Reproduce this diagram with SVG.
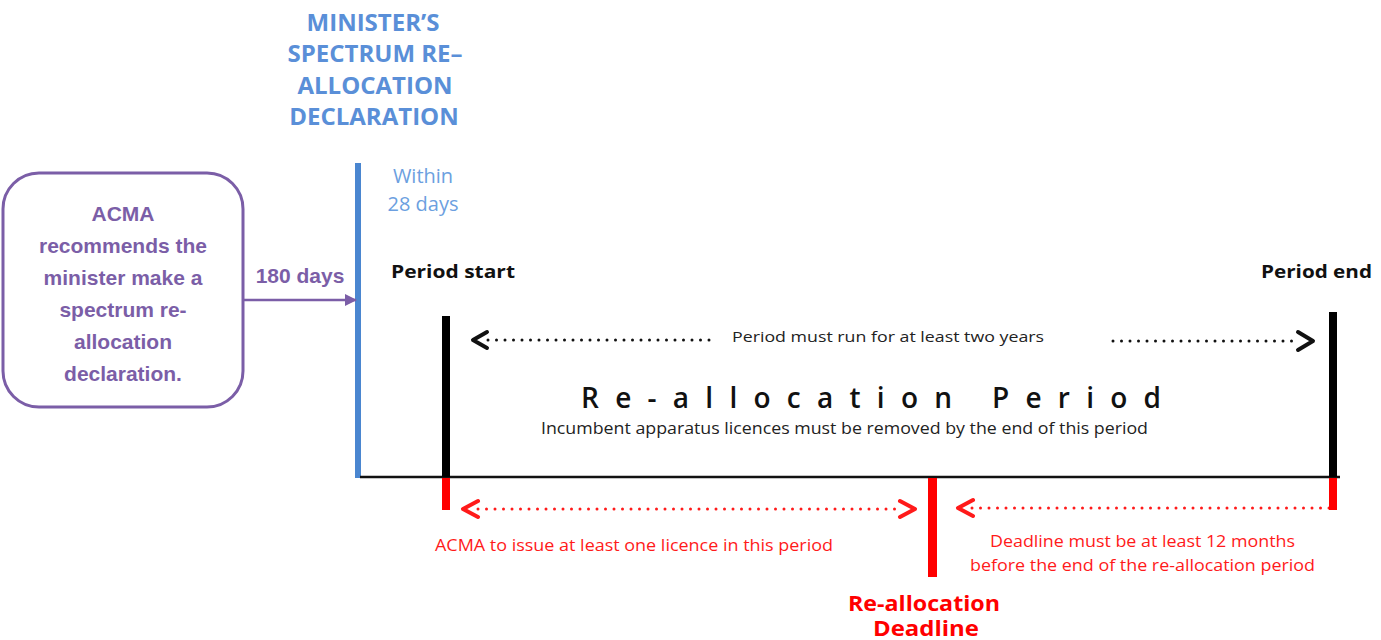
<svg xmlns="http://www.w3.org/2000/svg" width="1381" height="640" viewBox="0 0 1381 640">
<defs>
<style>
.title{font-family:"Open Sans","Liberation Sans",sans-serif;font-weight:700;font-size:24px;fill:#5a8fd8;text-anchor:middle}
.within{font-family:"Open Sans","Liberation Sans",sans-serif;font-size:20px;fill:#6c9fe0;text-anchor:middle}
.purple{font-family:"Liberation Sans",Arial,sans-serif;font-weight:700;font-size:21px;fill:#7b5ea7;text-anchor:middle}
.lbl{font-family:"Open Sans","Liberation Sans",sans-serif;font-weight:700;font-size:17px;fill:#111}
.note{font-family:"Open Sans","Liberation Sans",sans-serif;font-size:15px;fill:#222}
.rnote{font-family:"Open Sans","Liberation Sans",sans-serif;font-size:16px;fill:#ff1a1a}
.rbig{font-family:"Open Sans","Liberation Sans",sans-serif;font-weight:700;font-size:22px;fill:#ff0000}
.dotk{stroke:#111;stroke-width:3;stroke-linecap:round;stroke-dasharray:0 8.5;fill:none}
.dotr{stroke:#ff1a1a;stroke-width:3;stroke-linecap:round;stroke-dasharray:0 8.5;fill:none}
.chk{stroke:#111;stroke-width:4;fill:none;stroke-linecap:round;stroke-linejoin:round}
.chr{stroke:#ff1a1a;stroke-width:4;fill:none;stroke-linecap:round;stroke-linejoin:round}
</style>
<marker id="ap" markerWidth="12" markerHeight="12" refX="11" refY="6" orient="auto" markerUnits="userSpaceOnUse">
<path d="M0,0 L12,6 L0,12 Z" fill="#7b5ea7"/>
</marker>
</defs>
<rect width="1381" height="640" fill="#fff"/>

<g id="declaration">
<text class="title" x="373" y="31">MINISTER’S</text>
<text class="title" x="375" y="62">SPECTRUM RE–</text>
<text class="title" x="375" y="94">ALLOCATION</text>
<text class="title" x="374" y="125">DECLARATION</text>
<rect x="355" y="163" width="6" height="315" fill="#4a86d0"/>
<text class="within" x="423" y="183">Within</text>
<text class="within" x="423" y="211">28 days</text>
</g>

<g id="acma-box">
<rect x="3" y="173" width="240" height="234" rx="36" ry="36" fill="#fff" stroke="#7b5ea7" stroke-width="3"/>
<text class="purple" x="123" y="221">ACMA</text>
<text class="purple" x="123" y="253">recommends the</text>
<text class="purple" x="123" y="285">minister make a</text>
<text class="purple" x="123" y="317">spectrum re-</text>
<text class="purple" x="123" y="349">allocation</text>
<text class="purple" x="123" y="381">declaration.</text>
</g>

<g id="connectors">
<line x1="243" y1="300" x2="356" y2="300" stroke="#7b5ea7" stroke-width="2.5" marker-end="url(#ap)"/>
<text class="purple" x="300" y="283">180 days</text>
<line x1="360" y1="477" x2="1340" y2="477" stroke="#111" stroke-width="2.5"/>
<line class="dotk" x1="488" y1="340" x2="712" y2="340"/>
<polyline class="chk" points="487,332 473,340 487,348"/>
<line class="dotk" x1="1113" y1="341" x2="1300" y2="341"/>
<polyline class="chk" points="1298,332 1313,341 1298,350"/>
<line class="dotr" x1="478" y1="509" x2="900" y2="509"/>
<polyline class="chr" points="478,501 463,509 478,517"/>
<polyline class="chr" points="900,501 915,509 900,517"/>
<line class="dotr" x1="972" y1="508" x2="1330" y2="508"/>
<polyline class="chr" points="973,500 958,508 973,516"/>
</g>

<g id="period-start">
<text class="lbl" x="391" y="278" textLength="124" lengthAdjust="spacingAndGlyphs">Period start</text>
<rect x="442" y="316" width="8" height="161" fill="#000"/>
<rect x="442" y="478" width="8" height="32" fill="#ff0000"/>
</g>

<g id="period-end">
<text class="lbl" x="1261" y="278" textLength="111" lengthAdjust="spacingAndGlyphs">Period end</text>
<rect x="1329" y="312" width="8" height="165" fill="#000"/>
<rect x="1329" y="478" width="8" height="32" fill="#ff0000"/>
</g>

<g id="reallocation-period">
<text class="note" x="732" y="342" textLength="312" lengthAdjust="spacingAndGlyphs">Period must run for at least two years</text>
<text x="581" y="408" textLength="580" lengthAdjust="spacing" style="font-family:'Open Sans','Liberation Sans',sans-serif;font-weight:600;font-size:28px;fill:#111">Re-allocation Period</text>
<text class="note" x="541" y="434" textLength="607" lengthAdjust="spacingAndGlyphs" style="font-size:16px">Incumbent apparatus licences must be removed by the end of this period</text>
</g>

<g id="deadline">
<rect x="928" y="478" width="9" height="99" fill="#ff0000"/>
<text class="rnote" x="435" y="551" textLength="398" lengthAdjust="spacingAndGlyphs">ACMA to issue at least one licence in this period</text>
<text class="rnote" x="990" y="547" textLength="305" lengthAdjust="spacingAndGlyphs">Deadline must be at least 12 months</text>
<text class="rnote" x="970" y="571" textLength="345" lengthAdjust="spacingAndGlyphs">before the end of the re-allocation period</text>
<text class="rbig" x="848" y="611" textLength="152" lengthAdjust="spacingAndGlyphs">Re-allocation</text>
<text class="rbig" x="873" y="636" textLength="106" lengthAdjust="spacingAndGlyphs">Deadline</text>
</g>
</svg>
